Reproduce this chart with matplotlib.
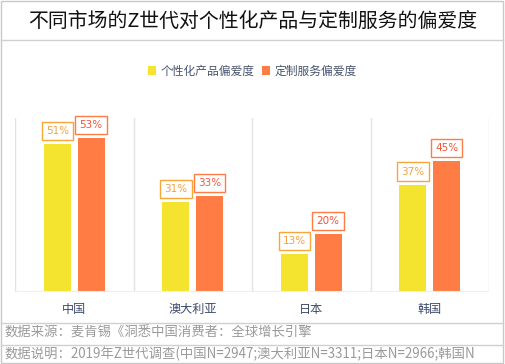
import matplotlib
matplotlib.use("Agg")
import matplotlib.pyplot as plt
from matplotlib.lines import Line2D
from matplotlib.patches import Rectangle
import numpy as np

plt.rcParams["font.family"] = ["Noto Sans CJK SC", "DejaVu Sans"]

title = "不同市场的Z世代对个性化产品与定制服务的偏爱度"
categories = ["中国", "澳大利亚", "日本", "韩国"]
series_names = ["个性化产品偏爱度", "定制服务偏爱度"]
personal = [51, 31, 13, 37]
custom = [53, 33, 20, 45]
source_note = "数据来源：麦肯锡《洞悉中国消费者：全球增长引擎"
sample_note = "数据说明：2019年Z世代调查(中国N=2947;澳大利亚N=3311;日本N=2966;韩国N"

YELLOW = "#f5e42f"
ORANGE = "#ff7c45"
W, H = 505, 364

fig = plt.figure(figsize=(W / 100, H / 100), dpi=100)


def fx(px):
    return px / W


def fy(py):
    return 1 - py / H


# frame lines
fig.add_artist(Rectangle((fx(1), fy(363)), fx(502), 362 / H, fill=False,
                         ec="#c8c8c8", lw=1, transform=fig.transFigure))
for y in (40, 323, 345):
    fig.add_artist(Line2D([fx(1), fx(503)], [fy(y), fy(y)], color="#d0d0d0", lw=1))

fig.text(0.5, fy(21), title, ha="center", va="center", fontsize=14.3, color="#111111")

ax = fig.add_axes([fx(15), fy(292), fx(474), 174 / H])
x = np.arange(len(categories))
off, bw = 0.142, 0.228
b1 = ax.bar(x - off, personal, bw, color=YELLOW, label=series_names[0], zorder=2)
b2 = ax.bar(x + off, custom, bw, color=ORANGE, label=series_names[1], zorder=2)
for bars, vals, ec, tc in ((b1, personal, "#f7a63c", "#f5a040"), (b2, custom, "#ff7c45", "#f0553a")):
    for r, v in zip(bars, vals):
        ax.annotate(f"{v}%", (r.get_x() + r.get_width() / 2, v), xytext=(0, 9.5),
                    textcoords="offset points", ha="center", va="center",
                    fontsize=7.5, color=tc, family="DejaVu Sans",
                    bbox=dict(boxstyle="square,pad=0.4", fc="white", ec=ec, lw=1))

ax.set_xlim(-0.5, len(categories) - 0.5)
ax.set_ylim(0, 60)
for xv in np.arange(-0.5, len(categories), 1.0):
    ax.axvline(xv, color="#e2e2e2", lw=1, zorder=1)
for s in ax.spines.values():
    s.set_visible(False)
ax.axhline(0, color="#eeeeee", lw=1.5, zorder=3)
ax.set_yticks([])
ax.set_xticks(x)
ax.set_xticklabels(categories, fontsize=8.7, color="#3c4a6b")
ax.tick_params(axis="x", length=0, pad=8)

fig.legend(handles=[b1, b2], labels=series_names, loc="center", bbox_to_anchor=(0.5, fy(71)),
           ncol=2, frameon=False, fontsize=8.5, handlelength=0.7, handleheight=0.7,
           handletextpad=0.4, columnspacing=0.6, labelcolor="#4a5570")

fig.text(fx(5), fy(333), source_note, ha="left", va="center", fontsize=9.6, color="#9a9a9a")
fig.text(fx(5), fy(354), sample_note, ha="left", va="center", fontsize=9.6, color="#9a9a9a")

fig.savefig("out.png", dpi=100)
